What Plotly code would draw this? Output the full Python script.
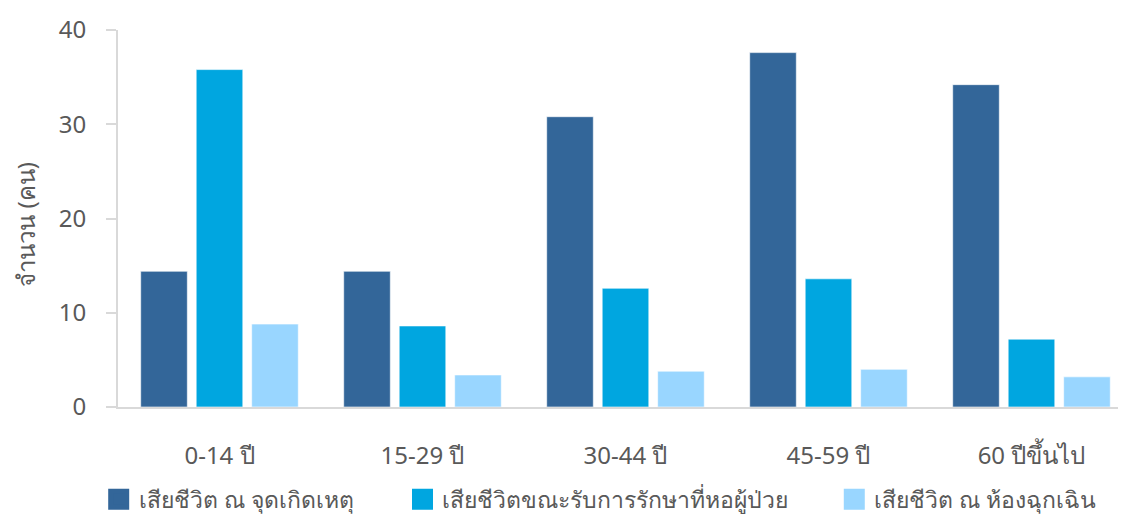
import plotly.graph_objects as go

# age groups and deaths per group
age_groups = ["0-14 ปี", "15-29 ปี", "30-44 ปี", "45-59 ปี", "60 ปีขึ้นไป"]
series_names = [
    "เสียชีวิต ณ จุดเกิดเหตุ",
    "เสียชีวิตขณะรับการรักษาที่หอผู้ป่วย",
    "เสียชีวิต ณ ห้องฉุกเฉิน",
]
at_scene = [14.4, 14.4, 30.8, 37.6, 34.2]
in_ward = [35.8, 8.6, 12.6, 13.6, 7.2]
in_er = [8.8, 3.4, 3.8, 4.0, 3.2]
y_ticks = [0, 10, 20, 30, 40]

COLORS = ["#336699", "#00A6E0", "#99D6FF"]
TEXT_GRAY = "#595959"
AXIS_GRAY = "#D9D9D9"
FONT = "Noto Sans, Open Sans, sans-serif"

# one legend per series so the entries sit where the reference has them
LEGEND_IDS = ["legend", "legend2", "legend3"]
LEGEND_X = [-0.019, 0.280, 0.705]

fig = go.Figure()
for name, vals, col, lg in zip(series_names, [at_scene, in_ward, in_er], COLORS, LEGEND_IDS):
    fig.add_trace(
        go.Bar(
            x=age_groups,
            y=vals,
            name=name,
            marker=dict(color=col, line=dict(color="rgba(255,255,255,0.6)", width=1)),
            showlegend=False,
        )
    )
    # legend proxy so the swatch is a bigger square than plotly's bar icon
    fig.add_trace(
        go.Scatter(
            x=[None],
            y=[None],
            mode="markers",
            name=name,
            legend=lg,
            marker=dict(symbol="square", size=16, color=col, line=dict(color=col, width=5)),
        )
    )

legend_style = dict(
    orientation="h",
    xanchor="left",
    y=-0.245,
    yanchor="middle",
    font=dict(size=23, color=TEXT_GRAY),
    itemclick=False,
    bgcolor="rgba(0,0,0,0)",
)

# the page body adds an 8px offset, so margins are trimmed by that much
fig.update_layout(
    width=1126,
    height=515,
    paper_bgcolor="white",
    plot_bgcolor="white",
    font=dict(family=FONT, color=TEXT_GRAY, size=20),
    margin=dict(l=110, r=0, t=22, b=116, autoexpand=False),
    barmode="group",
    bargap=0.18,
    bargroupgap=0.16,
    legend=dict(x=LEGEND_X[0], **legend_style),
    legend2=dict(x=LEGEND_X[1], **legend_style),
    legend3=dict(x=LEGEND_X[2], **legend_style),
)
fig.update_xaxes(
    range=[-0.5, 4.505],
    showline=True,
    linecolor=AXIS_GRAY,
    linewidth=2,
    ticks="",
    ticklabelstandoff=26,
    tickfont=dict(size=24, color=TEXT_GRAY),
    showgrid=False,
    automargin=False,
)
fig.update_yaxes(
    range=[0, 40],
    tickvals=y_ticks,
    showline=True,
    linecolor=AXIS_GRAY,
    linewidth=2,
    ticks="outside",
    ticklen=10,
    tickcolor=AXIS_GRAY,
    tickwidth=2,
    ticklabelstandoff=15,
    tickfont=dict(size=24, color=TEXT_GRAY),
    showgrid=False,
    zeroline=False,
    automargin=False,
)
# axis title as a rotated annotation so its place is not squeezed by the margin
fig.add_annotation(
    text="จำนวน (คน)",
    xref="paper",
    yref="paper",
    x=-0.091,
    y=0.485,
    xanchor="center",
    yanchor="middle",
    textangle=-90,
    showarrow=False,
    font=dict(size=24, color=TEXT_GRAY),
)

fig.write_html("out.html")
